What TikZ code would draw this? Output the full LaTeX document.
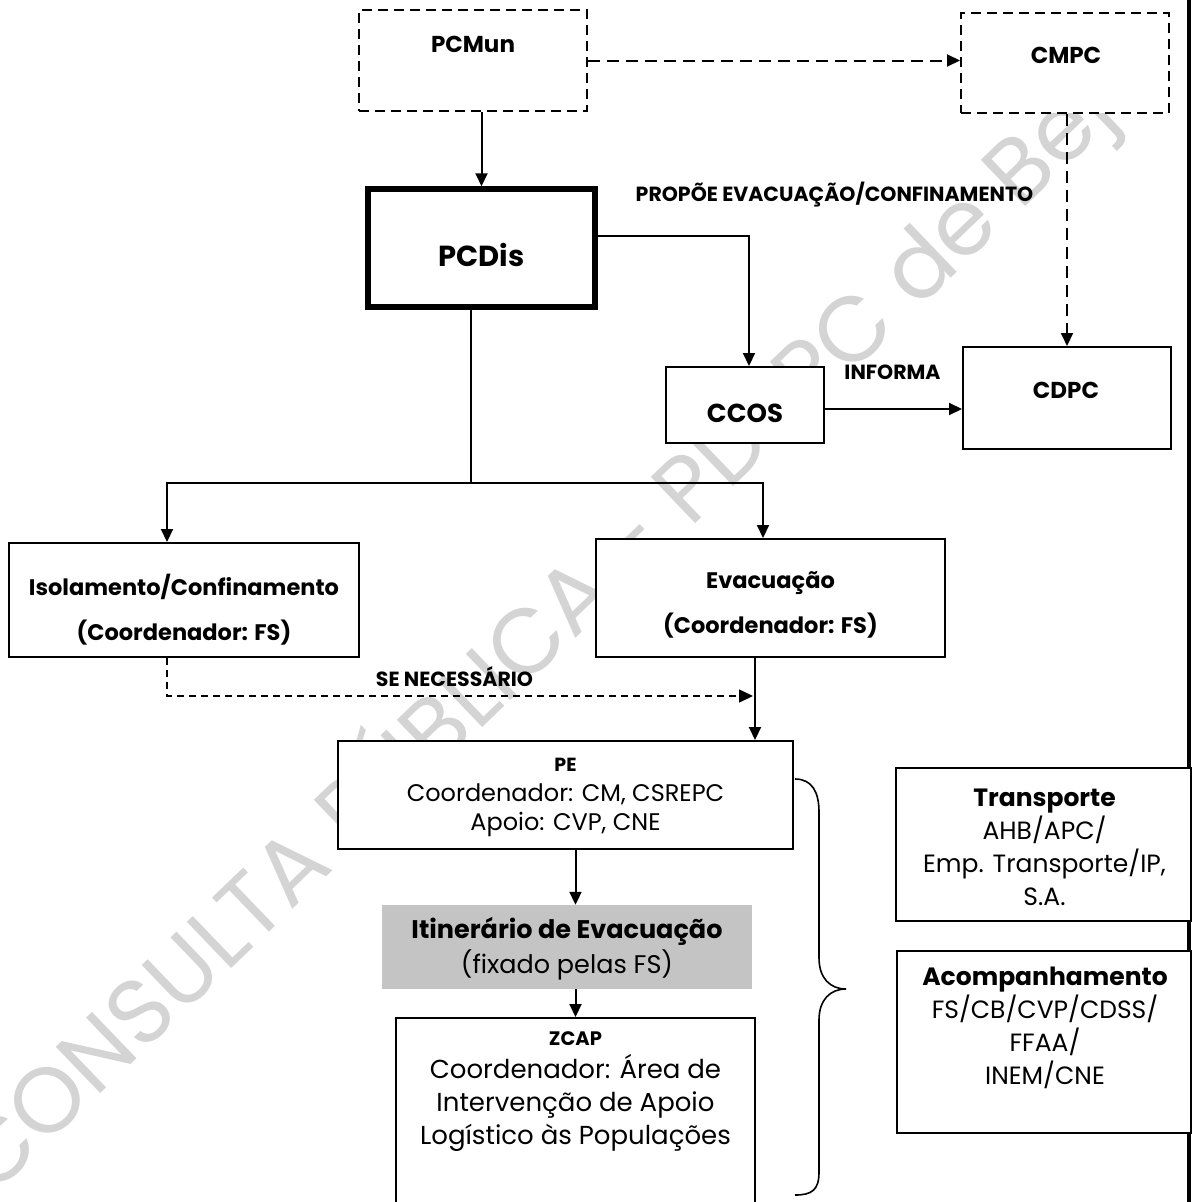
\documentclass[tikz,border=0pt]{standalone}
\usepackage{fontspec}
\setmainfont{Poppins}
\usetikzlibrary{arrows.meta}
\definecolor{wmgray}{RGB}{212,212,212}
\definecolor{fillgray}{RGB}{196,196,196}
\begin{document}
\begin{tikzpicture}[x=1pt,y=-1pt,
  box/.style={draw=black, line width=2pt, fill=white, rectangle, inner sep=0pt},
  dbox/.style={box, dash pattern=on 10pt off 6pt},
  thickbox/.style={box, line width=5.5pt},
  greybox/.style={rectangle, fill=fillgray, inner sep=0pt},
  conn/.style={line width=2pt},
  arr/.style={conn, -{Triangle[length=13pt,width=12pt]}},
  darr/.style={arr, dash pattern=on 12pt off 7pt},
  sarr/.style={line width=1.6pt, dash pattern=on 7pt off 5pt, -{Triangle[length=14pt,width=13pt]}},
  ttl/.style={inner sep=0pt, font=\bfseries\fontsize{23}{26}\selectfont},
  lbl/.style={inner sep=0pt, font=\bfseries\fontsize{20.5}{22}\selectfont},
  task/.style={inner sep=0pt, align=center, font=\bfseries\fontsize{22.5}{45}\selectfont},
  info/.style={inner sep=0pt, align=center, font=\fontsize{25}{33}\selectfont},
  wmark/.style={inner sep=0pt, anchor=base west, rotate=43.8, text=wmgray,
    font=\fontsize{92}{100}\selectfont}
]
\useasboundingbox (0,0) rectangle (1195,1202);

% watermark underneath everything
\node[wmark] (wm) at (-8,1198) {CONSULTA PÚBLICA - PDEPC de Beja};

% right-hand frame line
\coordinate (frtop) at (1189,0);
\coordinate (frbot) at (1189,1202);
\draw[line width=3.5pt] (frtop) -- (frbot);

% boxes
\node[dbox, minimum width=228pt, minimum height=101pt] (pcmun) at (473,60.5) {};
\node[dbox, minimum width=208pt, minimum height=100pt] (cmpc) at (1065,63) {};
\node[thickbox, minimum width=227pt, minimum height=118pt] (pcdis) at (481.5,248) {};
\node[box, minimum width=158pt, minimum height=76pt] (ccos) at (745,405) {};
\node[box, minimum width=208pt, minimum height=102pt] (cdpc) at (1067,398) {};
\node[box, minimum width=350pt, minimum height=114pt] (iso) at (184,600) {};
\node[box, minimum width=349pt, minimum height=118pt] (evac) at (770.5,598) {};
\node[box, minimum width=455pt, minimum height=108pt] (pe) at (565.5,795) {};
\node[greybox, minimum width=370pt, minimum height=84pt] (itin) at (567,947) {};
\node[box, minimum width=359pt, minimum height=200pt, anchor=north] (zcap) at (575.5,1017) {};
\node[box, minimum width=295pt, minimum height=153pt] (transp) at (1043.5,844.5) {};
\node[box, minimum width=294pt, minimum height=182pt] (acomp) at (1044,1042) {};

% box texts
\node[ttl] (pcmun-t) at (473,44) {PCMun};
\node[ttl] (cmpc-t) at (1066,55) {CMPC};
\node[ttl] (cdpc-t) at (1066,390) {CDPC};
\node[ttl, font=\bfseries\fontsize{26}{30}\selectfont] (ccos-t) at (745,413) {CCOS};
\node[ttl, font=\bfseries\fontsize{29}{32}\selectfont] (pcdis-t) at (481.5,255) {PCDis};
\node[task] (iso-t) at (184,609.5) {Isolamento/Confinamento\\(Coordenador: FS)};
\node[task] (evac-t) at (770.5,605) {Evacuação\\(Coordenador: FS)};
\node[info, font=\fontsize{24}{29.5}\selectfont] (pe-t) at (565.5,797.5)
  {{\bfseries\fontsize{19}{20}\selectfont PE}\\Coordenador: CM, CSREPC\\Apoio: CVP, CNE};
\node[info, font=\fontsize{25.5}{35}\selectfont] (itin-t) at (567,948.5)
  {{\bfseries Itinerário de Evacuação}\\(fixado pelas FS)};
\node[info, font=\fontsize{26}{33}\selectfont] (zcap-t) at (575.5,1092)
  {{\bfseries\fontsize{19.5}{20}\selectfont ZCAP}\\Coordenador: Área de\\Intervenção de Apoio\\Logístico às Populações};
\node[info] (transp-t) at (1044.5,847)
  {{\bfseries Transporte}\\AHB/APC/\\Emp. Transporte/IP,\\S.A.};
\node[info] (acomp-t) at (1045,1027.5)
  {{\bfseries Acompanhamento}\\FS/CB/CVP/CDSS/\\FFAA/\\INEM/CNE};

% connector labels
\node[lbl] (propoe) at (834.5,195) {PROPÕE EVACUAÇÃO/CONFINAMENTO};
\node[lbl] (informa) at (892.5,372) {INFORMA};
\node[lbl] (senec) at (454.5,677) {SE NECESSÁRIO};

% connectors
\draw[arr] (pcdis.north |- pcmun.south) -- (pcdis.north);
\draw[darr] (pcmun.east) -- (pcmun.east -| cmpc.west);
\draw[darr] (cdpc.north |- cmpc.south) -- (cdpc.north);
\draw[arr] ([yshift=12pt]pcdis.east) -| ([xshift=4pt]ccos.north);
\draw[arr] ([yshift=-4pt]ccos.east) -- ([yshift=-4pt]ccos.east -| cdpc.west);

\coordinate (split) at (471,483);
\draw[conn] ([xshift=-10.5pt]pcdis.south) -- (split);
\draw[arr] (split) -| ([xshift=-17pt]iso.north);
\draw[arr] (split) -| ([xshift=-7.5pt]evac.north);

\coordinate (senecend) at (753,696);
\draw[sarr] ([xshift=-17pt]iso.south) |- (senecend);
\draw[arr] ([xshift=-15.5pt]evac.south) -- ([xshift=-15.5pt]evac.south |- pe.north);

\draw[arr] (zcap.north |- pe.south) -- (zcap.north |- itin.north);
\draw[arr] (zcap.north |- itin.south) -- (zcap.north);

% curly brace grouping PE, itinerary and ZCAP
\coordinate (brtop) at (795,779);
\coordinate (brtip) at (846,989);
\coordinate (brbot) at (795,1195);
\draw[line width=1.6pt] (brtop) .. controls (812,779) and (819,792) .. (819,812)
  -- (819,958) .. controls (819,978) and (830,989) .. (brtip)
  .. controls (830,989) and (819,1000) .. (819,1020)
  -- (819,1172) .. controls (819,1190) and (812,1195) .. (brbot);
\end{tikzpicture}
\end{document}
